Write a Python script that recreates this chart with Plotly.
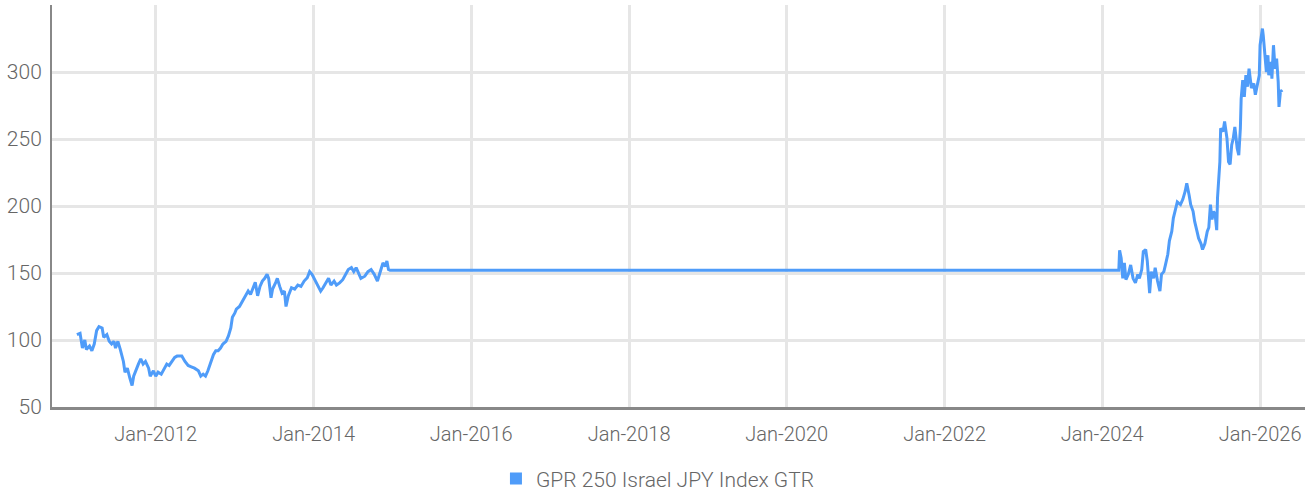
import plotly.graph_objects as go
from datetime import datetime

# Decimal-year positions and index values
years = [
    2011.00, 2011.04, 2011.07, 2011.10, 2011.12, 2011.16, 2011.19, 2011.22, 2011.25, 2011.28,
    2011.32, 2011.34, 2011.38, 2011.41, 2011.44, 2011.47, 2011.49, 2011.52, 2011.55, 2011.59,
    2011.61, 2011.64, 2011.67, 2011.70, 2011.72, 2011.75, 2011.78, 2011.81, 2011.84, 2011.87,
    2011.91, 2011.93, 2011.97, 2012.00, 2012.03, 2012.07, 2012.10, 2012.14, 2012.17, 2012.20,
    2012.24, 2012.27, 2012.33, 2012.37, 2012.41, 2012.45, 2012.49, 2012.54, 2012.57, 2012.60,
    2012.63, 2012.66, 2012.69, 2012.73, 2012.76, 2012.79, 2012.82, 2012.85, 2012.89, 2012.92,
    2012.95, 2012.97, 2013.00, 2013.02, 2013.06, 2013.11, 2013.14, 2013.17, 2013.20, 2013.23,
    2013.26, 2013.29, 2013.32, 2013.35, 2013.38, 2013.41, 2013.43, 2013.46, 2013.48, 2013.52,
    2013.54, 2013.57, 2013.60, 2013.63, 2013.65, 2013.68, 2013.72, 2013.76, 2013.80, 2013.84,
    2013.88, 2013.92, 2013.95, 2013.98, 2014.00, 2014.05, 2014.09, 2014.12, 2014.16, 2014.19,
    2014.22, 2014.26, 2014.29, 2014.33, 2014.37, 2014.41, 2014.44, 2014.48, 2014.51, 2014.54,
    2014.57, 2014.60, 2014.65, 2014.69, 2014.73, 2014.77, 2014.81, 2014.85, 2014.88, 2014.91,
    2014.93, 2014.95, 2014.97,
    2024.21, 2024.22, 2024.24, 2024.26, 2024.28, 2024.30, 2024.33, 2024.36, 2024.39, 2024.42,
    2024.45, 2024.47, 2024.50, 2024.52, 2024.55, 2024.57, 2024.60, 2024.62, 2024.65, 2024.67,
    2024.70, 2024.73, 2024.75, 2024.78, 2024.80, 2024.83, 2024.85, 2024.88, 2024.90, 2024.93,
    2024.95, 2024.99, 2025.02, 2025.05, 2025.07, 2025.10, 2025.12, 2025.15, 2025.17, 2025.20,
    2025.22, 2025.25, 2025.27, 2025.30, 2025.33, 2025.35, 2025.37, 2025.39, 2025.41, 2025.43,
    2025.45, 2025.46, 2025.48, 2025.49, 2025.50, 2025.53, 2025.55, 2025.58, 2025.60, 2025.62,
    2025.64, 2025.66, 2025.68, 2025.71, 2025.73, 2025.75, 2025.76, 2025.78, 2025.80, 2025.82,
    2025.84, 2025.86, 2025.89, 2025.92, 2025.94, 2025.97, 2025.99, 2026.00, 2026.03, 2026.04,
    2026.06, 2026.08, 2026.10, 2026.11, 2026.14, 2026.15, 2026.17, 2026.19, 2026.21, 2026.23,
    2026.24, 2026.26, 2026.28,
]

values = [
    104, 105, 94, 100, 93, 95.5, 92, 97, 107, 110,
    109, 102, 104, 99, 97, 99, 94, 99, 93, 84,
    76, 79, 72, 66, 73, 78, 82, 86, 82, 84,
    79, 73, 77, 73, 76, 74.5, 78, 82, 81, 84,
    87, 88, 88, 84, 81, 80, 79, 77, 73, 74.5,
    73, 77, 82, 89, 92, 92, 94, 97, 99, 103,
    109, 117, 120, 123, 125, 130, 134, 136.5, 134, 139,
    143, 133, 140, 144, 146, 149, 146, 131.5, 138, 143,
    146, 140, 135, 136.5, 125, 133, 139, 138, 141, 140,
    144, 146.5, 151, 149, 146.5, 141, 136.5, 139, 142.6, 146,
    141, 144, 141, 142.6, 145, 149, 152.6, 154, 151, 154,
    150, 146, 147.6, 151, 152.6, 149, 144, 152.6, 157.5, 155,
    159, 152.6, 152,
    152, 167, 161, 146, 157.5, 145, 149, 156, 146, 142.6,
    149, 146, 152.6, 166, 167.5, 159, 135, 151, 146, 154,
    144, 136.5, 149, 151, 156, 164, 174, 181, 191, 198,
    203, 201, 205, 211, 217, 208, 201, 196, 188.5, 181,
    176, 172, 167.5, 172, 181, 184, 201, 190, 196, 193.5,
    182, 206, 221, 233, 258, 255.5, 263, 250.5, 233, 231,
    245.6, 250.5, 259, 243, 238, 258, 280, 294, 281.5, 297.6,
    289, 302.5, 288, 291.5, 283, 292.7, 297.6, 320, 332.4, 327.5,
    315, 300, 312.5, 297.6, 307.5, 295, 320, 302.5, 310, 292.7,
    274, 286.5, 285,
]

series_name = "GPR 250 Israel JPY Index GTR"
y_ticks = [50, 100, 150, 200, 250, 300]


def to_date(t):
    y = int(t)
    start = datetime(y, 1, 1)
    end = datetime(y + 1, 1, 1)
    return start + (end - start) * (t - y)


dates = [to_date(t) for t in years]

LINE = "#4f9cf9"
TEXT = "#666666"
FONT = "Roboto, sans-serif"

fig = go.Figure()
fig.add_trace(go.Scatter(
    x=dates, y=values, mode="lines",
    line=dict(color=LINE, width=3),
    showlegend=False, hoverinfo="x+y",
))
fig.add_trace(go.Scatter(
    x=[None], y=[None], mode="markers", name=series_name,
    marker=dict(symbol="square", size=9, color=LINE),
))

fig.update_layout(
    width=1314, height=493,
    margin=dict(l=52, r=9, t=5, b=86, autoexpand=False),
    paper_bgcolor="white", plot_bgcolor="white",
    font=dict(family=FONT, size=21, color=TEXT, weight=300),
    legend=dict(
        orientation="h", x=0.4836, xanchor="center", y=-0.179, yanchor="middle",
        font=dict(family=FONT, size=21, color=TEXT, weight=300),
        itemsizing="constant", itemwidth=30,
    ),
    xaxis=dict(
        type="date", automargin=False,
        range=[to_date(2010.684), to_date(2026.57)],
        tick0="2012-01-01", dtick="M24", tickformat="%b-%Y",
        showgrid=True, gridcolor="#e6e6e6", gridwidth=3,
        showline=True, linecolor="#888888", linewidth=3,
        ticks="", zeroline=False,
        tickfont=dict(family=FONT, size=20, color=TEXT, weight=300),
        ticklabelstandoff=7,
    ),
    yaxis=dict(
        range=[50, 350], automargin=False,
        tickvals=y_ticks,
        showgrid=True, gridcolor="#e6e6e6", gridwidth=3,
        showline=True, linecolor="#888888", linewidth=2,
        ticks="", zeroline=False,
        tickfont=dict(family=FONT, size=21, color=TEXT, weight=300),
        ticklabelstandoff=4,
    ),
)

fig.write_html(
    "out.html",
    config={"displayModeBar": False},
    post_script="document.body.style.margin='0px';",
)
